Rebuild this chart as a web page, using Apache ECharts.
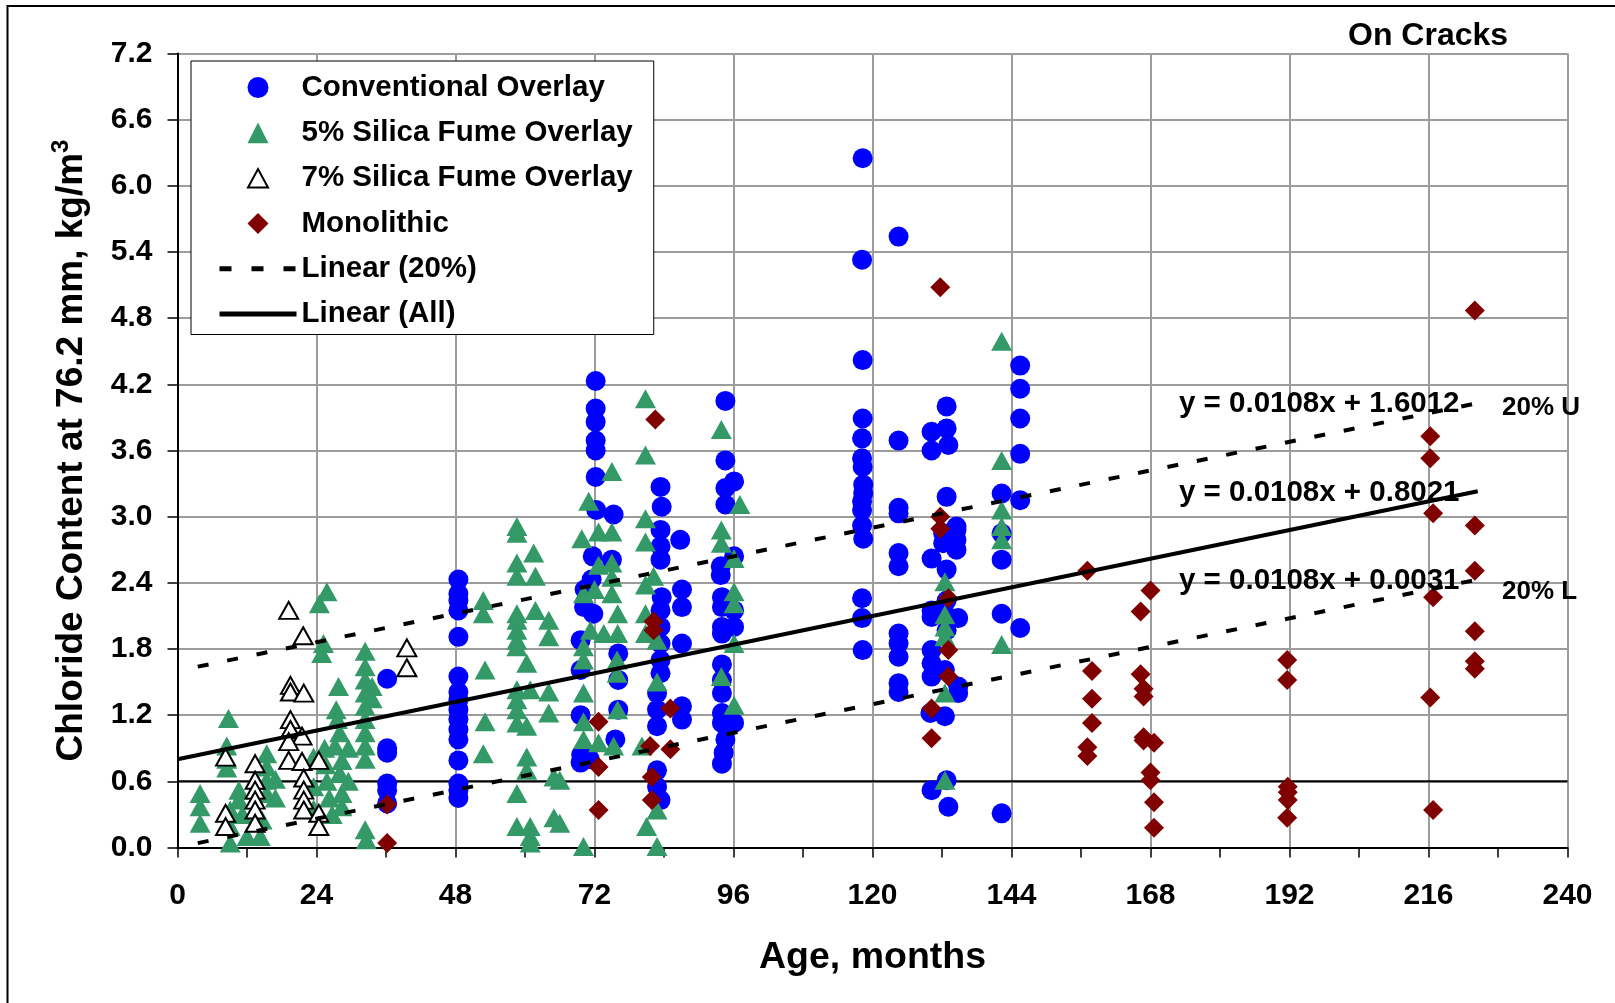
<!DOCTYPE html>
<html>
<head>
<meta charset="utf-8">
<title>Chloride Content - On Cracks</title>
<script src="https://cdn.jsdelivr.net/npm/echarts@6/dist/echarts.min.js"></script>
<style>
  html, body { margin: 0; padding: 0; background: #fff; }
  #chart { width: 1615px; height: 1003px; }
</style>
</head>
<body>
<div id="chart"></div>
<script>
// [age in months, chloride content kg/m3]
var conventional = [
  [36.2,1.53],[36.2,0.90],[36.2,0.86],[36.2,0.58],[36.2,0.52],[36.2,0.40],
  [48.5,2.43],[48.5,2.30],[48.5,2.24],[48.5,2.15],[48.5,1.91],[48.5,1.55],[48.5,1.41],[48.5,1.34],[48.5,1.25],[48.5,1.16],[48.5,1.07],[48.5,0.98],[48.5,0.79],[48.5,0.58],[48.5,0.52],[48.5,0.45],
  [72.2,4.23],[72.2,3.98],[72.2,3.86],[72.2,3.69],[72.2,3.60],[72.2,3.36],[72.3,3.06],[71.7,2.64],[71.5,2.43],[70.3,2.34],[70.2,2.18],[71.8,2.12],[69.6,1.88],[69.6,1.61],[69.6,1.20],[69.7,0.84],[71.2,0.80],[69.6,0.77],
  [75.3,3.02],[75.0,2.61],[76.1,1.76],[76.1,1.52],[76.1,1.25],[75.6,0.98],
  [83.4,3.27],[83.6,3.09],[83.4,2.88],[83.4,2.73],[86.8,2.79],[83.4,2.61],[83.6,2.27],[83.4,2.15],[87.1,2.34],[87.1,2.18],[83.4,2.00],[83.4,1.85],[83.4,1.70],[83.4,1.58],[87.1,1.85],[82.8,1.40],[82.8,1.25],[82.8,1.10],[87.1,1.28],[87.1,1.16],[82.8,0.70],[82.8,0.55],[83.4,0.43],
  [94.6,4.05],[94.6,3.51],[94.6,3.26],[96.1,3.32],[94.6,3.11],[93.8,2.55],[93.8,2.47],[96.1,2.64],[94.0,2.27],[94.0,2.18],[96.1,2.15],[94.0,2.00],[94.0,1.94],[96.1,2.00],[94.0,1.66],[94.0,1.52],[94.0,1.40],[94.0,1.22],[94.0,1.13],[96.1,1.13],[94.6,0.98],[94.3,0.86],[94.0,0.76],
  [118.3,6.25],[118.2,5.33],[118.3,4.42],[118.3,3.89],[118.2,3.71],[118.2,3.53],[118.3,3.45],[118.4,3.29],[118.4,3.21],[118.2,3.14],[118.2,3.06],[118.2,2.92],[118.4,2.80],[118.2,2.26],[118.2,2.08],[118.3,1.79],
  [124.5,5.54],[124.5,3.69],[124.5,3.08],[124.5,3.03],[124.5,2.67],[124.5,2.55],[124.5,1.94],[124.5,1.85],[124.5,1.73],[124.5,1.49],[124.5,1.41],
  [130.2,3.77],[130.2,3.60],[130.2,2.62],[130.2,2.15],[130.2,2.09],[130.2,1.79],[130.2,1.67],[130.2,1.55],[130.0,1.22],[130.2,0.52],
  [132.8,4.00],[132.8,3.80],[133.1,3.65],[132.8,3.18],[132.2,2.85],[132.2,2.76],[132.8,2.52],[132.8,2.24],[132.8,2.10],[132.8,1.97],[132.5,1.61],[132.5,1.19],[132.8,0.61],[133.1,0.37],
  [134.5,2.91],[134.5,2.88],[134.5,2.79],[134.5,2.70],[134.8,2.08],[134.8,1.46],[134.8,1.40],
  [142.3,3.21],[142.3,2.85],[142.3,2.61],[142.3,2.12],[142.3,0.31],
  [145.5,4.37],[145.5,4.16],[145.5,3.89],[145.5,3.57],[145.5,3.15],[145.5,1.99]
];

var silica5 = [
  [3.9,0.49],[3.9,0.37],[3.9,0.22],
  [8.8,1.17],[8.5,0.92],[8.5,0.80],[8.5,0.72],[9.1,0.34],[9.1,0.19],[9.1,0.04],[10.6,0.52],[10.6,0.43],[11.2,0.30],[12.0,0.10],[14.3,0.10],[14.6,0.25],
  [15.4,0.85],[15.4,0.73],[15.4,0.61],[15.4,0.49],[16.9,0.62],[16.9,0.45],
  [25.8,2.32],[24.5,2.21],[25.2,1.85],[24.9,1.76],
  [27.8,1.46],[27.4,1.25],[27.6,1.16],[28.0,1.04],[27.2,0.92],[28.4,0.79],[28.0,0.67],
  [25.4,0.90],[25.6,0.75],[25.8,0.60],[26.2,0.45],[26.7,0.30],[28.4,0.49],[28.4,0.37],[23.5,0.82],[23.5,0.55],[23.5,0.35],[29.5,0.90],[29.5,0.60],
  [32.4,1.78],[32.4,1.64],[32.4,1.52],[32.4,1.40],[32.4,1.28],[32.4,1.16],[32.4,1.04],[32.4,0.92],[32.4,0.80],[33.6,1.46],[33.6,1.35],[32.4,0.16],[32.6,0.07],
  [52.8,2.24],[52.8,2.12],[53.1,1.61],[53.1,1.14],[52.8,0.85],
  [58.6,2.91],[58.6,2.85],[61.5,2.67],[58.6,2.58],[58.6,2.46],[61.8,2.46],[58.6,2.12],[58.6,2.06],[58.6,1.97],[58.6,1.88],[58.6,1.82],[61.8,2.15],[64.1,2.06],[64.1,1.91],[60.3,1.67],
  [58.6,1.43],[58.6,1.34],[58.6,1.25],[58.6,1.13],[60.9,1.43],[64.1,1.41],[64.1,1.22],[60.3,1.10],[60.3,0.82],[60.3,0.70],[65.0,0.64],[58.6,0.49],[58.6,0.19],[65.0,0.27],[60.9,0.19],[60.9,0.10],[60.9,0.04],
  [71.0,3.14],[69.8,2.80],[72.7,2.86],[75.0,2.86],[75.0,3.41],[72.7,2.56],[75.0,2.58],[75.0,2.45],[75.0,2.30],[70.1,2.30],[72.0,2.34],[76.0,2.12],[76.0,1.94],[71.3,1.97],[70.1,1.82],[70.1,1.70],[73.6,1.94],[75.9,1.70],[75.9,1.58],[70.1,1.40],[76.0,1.25],[70.1,1.14],[70.1,0.98],[72.7,0.95],[75.3,0.92],[66.0,0.61],[66.0,0.22],[70.1,0.01],
  [80.8,4.07],[80.8,3.56],[80.8,2.98],[80.8,2.77],[80.8,2.38],[80.8,2.12],[80.8,1.94],[82.2,2.46],[82.8,1.88],[82.8,1.50],[80.2,0.92],[82.8,0.34],[81.0,0.19],[82.8,0.01],
  [93.9,3.79],[97.1,3.11],[93.9,2.88],[93.9,2.76],[96.1,2.62],[96.1,2.32],[96.1,2.21],[96.1,1.85],[93.9,1.55],[96.1,1.29],
  [132.5,2.41],[132.5,2.11],[132.5,2.00],[132.5,1.91],[132.5,1.40],[132.5,0.61],
  [142.3,4.59],[142.3,3.51],[142.3,3.06],[142.3,2.91],[142.3,2.79],[142.3,1.84]
];

var silica7 = [
  [19.2,2.15],[21.7,1.92],[19.5,1.47],[19.5,1.41],[21.8,1.40],[19.5,1.16],[19.5,1.07],[21.5,1.01],[19.2,0.96],[8.3,0.82],[13.4,0.76],[19.2,0.79],[21.5,0.78],[24.4,0.79],
  [13.4,0.61],[13.4,0.52],[13.4,0.43],[13.4,0.34],[13.4,0.22],[8.3,0.31],[8.3,0.19],[21.8,0.63],[21.8,0.52],[21.8,0.43],[21.8,0.34],[24.4,0.31],[24.4,0.19],
  [39.6,1.81],[39.6,1.63]
];

var monolithic = [
  [36.2,0.39],[36.2,0.04],
  [82.5,3.88],[82.2,2.05],[82.2,1.97],[85.1,1.26],[72.7,1.14],[81.6,0.92],[85.1,0.89],[72.7,0.73],[81.9,0.64],[81.9,0.43],[72.7,0.34],
  [131.7,5.08],[131.7,3.00],[131.7,2.89],[133.1,2.26],[133.1,1.79],[133.1,1.55],[130.2,1.26],[130.2,0.99],
  [157.1,2.51],[157.9,1.60],[157.9,1.35],[157.9,1.13],[157.1,0.91],[157.1,0.83],
  [168.0,2.33],[166.3,2.14],[166.3,1.57],[166.8,1.44],[166.8,1.37],[166.8,1.00],[166.8,0.97],[168.6,0.95],[168.0,0.68],[168.0,0.61],[168.6,0.41],[168.6,0.18],
  [191.6,1.70],[191.6,1.52],[191.7,0.55],[191.7,0.50],[191.7,0.43],[191.6,0.27],
  [216.3,3.73],[216.3,3.53],[216.8,3.03],[216.8,2.27],[216.3,1.36],[216.8,0.34],
  [224.0,4.87],[224.0,2.92],[224.0,2.51],[224.0,1.96],[224.0,1.69],[224.0,1.62]
];

// trend lines (end points)
var trendAll = [[0, 0.80], [224.5, 3.23]];
var trendUpper = [[3.5, 1.64], [224.5, 4.03]];
var trendLower = [[3.5, 0.04], [224.5, 2.43]];
var thresholdLine = [[0, 0.6], [240, 0.6]];

var equationLabels = ['y = 0.0108x + 1.6012', 'y = 0.0108x + 0.8021', 'y = 0.0108x + 0.0031'];
var bandLabels = ['20% U', '20% L'];
var legendNames = ['Conventional Overlay', '5% Silica Fume Overlay', '7% Silica Fume Overlay', 'Monolithic', 'Linear (20%)', 'Linear (All)'];

var FONT = '"Liberation Sans", Arial, sans-serif';

// legend icons: 77x22 box (the two bare moves fix the extent), marker in the middle
var ICON_BOX = 'path://M0,0M77,22';
var legendIcons = {
  circle: ICON_BOX + 'M28,11A10.5,10.5,0,1,1,49,11A10.5,10.5,0,1,1,28,11Z',
  triangle: ICON_BOX + 'M28,21.5L49,21.5L38.5,0.8Z',
  openTriangle: ICON_BOX + 'M28.5,20.5L48.5,20.5L38.5,2Z',
  diamond: ICON_BOX + 'M38.5,0.5L49,11L38.5,21.5L28,11Z'
};

var chart = echarts.init(document.getElementById('chart'));

function textEl(str, x, y, size) {
  return {
    type: 'text', x: x, y: y, z: 100,
    style: { text: str, fill: '#000', font: 'bold ' + size + 'px ' + FONT, verticalAlign: 'middle' }
  };
}

var option = {
  animation: false,
  backgroundColor: '#fff',
  grid: { left: 177.5, top: 53.5, width: 1390, height: 794 },
  legend: {
    data: [
      { name: legendNames[0], icon: legendIcons.circle },
      { name: legendNames[1], icon: legendIcons.triangle },
      { name: legendNames[2], icon: legendIcons.openTriangle },
      { name: legendNames[3], icon: legendIcons.diamond },
      { name: legendNames[4], itemStyle: { opacity: 0 }, lineStyle: { color: '#000', width: 5, type: [12, 20] } },
      { name: legendNames[5], itemStyle: { opacity: 0 }, lineStyle: { color: '#000', width: 5, type: 'solid' } }
    ],
    orient: 'vertical',
    left: 191, top: 61,
    padding: [11.5, 21, 5.5, 26],
    itemGap: 15.3,
    itemWidth: 77, itemHeight: 22,
    backgroundColor: '#fff',
    borderColor: '#000', borderWidth: 1,
    selectedMode: false,
    textStyle: { fontFamily: FONT, fontWeight: 'bold', fontSize: 29.5, color: '#000', lineHeight: 30 }
  },
  xAxis: {
    type: 'value', min: 0, max: 240, interval: 24,
    name: 'Age, months', nameLocation: 'middle', nameGap: 91,
    nameTextStyle: { fontFamily: FONT, fontWeight: 'bold', fontSize: 37.5, color: '#000' },
    axisLine: { onZero: false, lineStyle: { color: '#000', width: 2 } },
    axisTick: { length: 10, lineStyle: { color: '#000', width: 1.5 } },
    minorTick: { show: true, splitNumber: 2, length: 10, lineStyle: { color: '#000', width: 1.5 } },
    axisLabel: { margin: 33, fontFamily: FONT, fontWeight: 'bold', fontSize: 30, color: '#000' },
    splitLine: { show: true, lineStyle: { color: '#9c9c9c', width: 2 } }
  },
  yAxis: {
    type: 'value', min: 0, max: 7.2, interval: 0.6,
    name: 'Chloride Content at 76.2 mm, kg/m{sup|3}', nameLocation: 'middle', nameGap: 83,
    nameTextStyle: {
      fontFamily: FONT, fontWeight: 'bold', fontSize: 37, color: '#000',
      rich: {
        sup: { fontFamily: FONT, fontWeight: 'bold', fontSize: 24, color: '#000', padding: [0, 0, 21, 0], verticalAlign: 'bottom' }
      }
    },
    axisLine: { onZero: false, lineStyle: { color: '#000', width: 2 } },
    axisTick: { length: 10, lineStyle: { color: '#000', width: 1.5 } },
    axisLabel: { margin: 25, fontFamily: FONT, fontWeight: 'bold', fontSize: 30, color: '#000',
      formatter: function (v) { return v.toFixed(1); } },
    splitLine: { show: true, lineStyle: { color: '#9c9c9c', width: 2 } }
  },
  graphic: [
    { type: 'rect', z: 100, silent: true, shape: { x: 7.5, y: 6, width: 1700, height: 1100 },
      style: { fill: 'none', stroke: '#000', lineWidth: 2 } },
    textEl('On Cracks', 1348, 36, 32),
    textEl(equationLabels[0], 1179, 404, 29.5),
    textEl(equationLabels[1], 1179, 493, 29.5),
    textEl(equationLabels[2], 1179, 581, 29.5),
    textEl(bandLabels[0], 1502, 408, 26),
    textEl(bandLabels[1], 1502, 592, 26)
  ],
  series: [
    { name: 'threshold', type: 'line', data: thresholdLine, symbol: 'none', silent: true,
      lineStyle: { color: '#000', width: 2 }, z: 1 },
    { name: legendNames[0], type: 'scatter', data: conventional, symbol: 'circle', symbolSize: 20,
      itemStyle: { color: '#0000ff', opacity: 1 }, emphasis: { disabled: true } },
    { name: legendNames[1], type: 'scatter', data: silica5, symbol: 'triangle', symbolSize: [21, 19],
      itemStyle: { color: '#339966', opacity: 1 }, emphasis: { disabled: true } },
    { name: legendNames[2], type: 'scatter', data: silica7, symbol: 'triangle', symbolSize: [19, 17],
      itemStyle: { color: '#fff', borderColor: '#000', borderWidth: 2, opacity: 1 }, emphasis: { disabled: true } },
    { name: legendNames[3], type: 'scatter', data: monolithic, symbol: 'diamond', symbolSize: 20,
      itemStyle: { color: '#800000', opacity: 1 }, emphasis: { disabled: true } },
    { name: legendNames[4], type: 'line', data: trendUpper, symbol: 'none', silent: true,
      itemStyle: { color: '#000' }, lineStyle: { color: '#000', width: 4, type: [11, 19] }, z: 5 },
    { name: legendNames[4], type: 'line', data: trendLower, symbol: 'none', silent: true,
      itemStyle: { color: '#000' }, lineStyle: { color: '#000', width: 4, type: [11, 19] }, z: 5 },
    { name: legendNames[5], type: 'line', data: trendAll, symbol: 'none', silent: true,
      itemStyle: { color: '#000' }, lineStyle: { color: '#000', width: 4 }, z: 5 }
  ]
};

chart.setOption(option);
</script>
</body>
</html>
